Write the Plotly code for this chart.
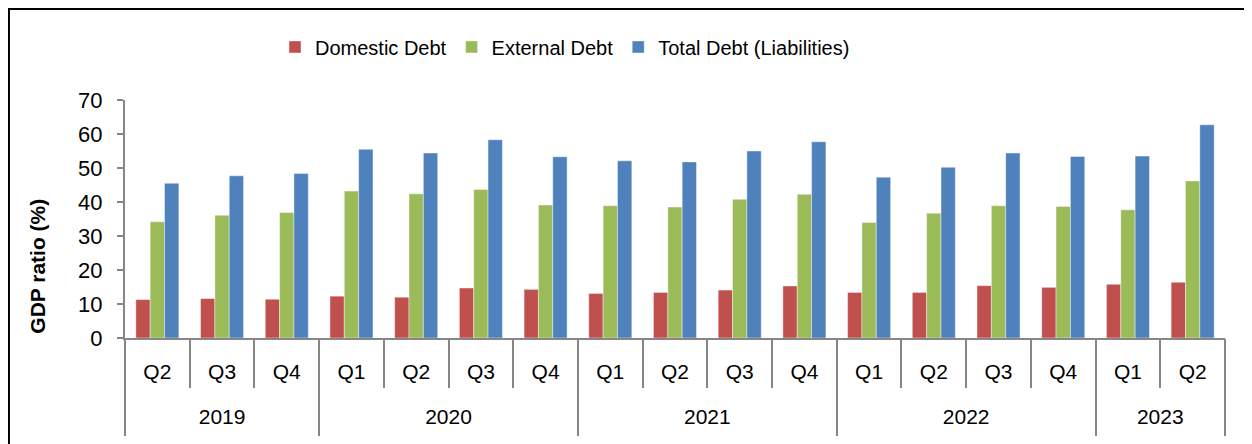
import plotly.graph_objects as go

# Quarters shown on the x axis, grouped by year
years = ["2019"] * 3 + ["2020"] * 4 + ["2021"] * 4 + ["2022"] * 4 + ["2023"] * 2
quarters = ["Q2", "Q3", "Q4",
            "Q1", "Q2", "Q3", "Q4",
            "Q1", "Q2", "Q3", "Q4",
            "Q1", "Q2", "Q3", "Q4",
            "Q1", "Q2"]

# Debt as a share of GDP (%)
domestic = [11.3, 11.6, 11.4, 12.3, 12.0, 14.7, 14.3, 13.1, 13.4, 14.1, 15.3,
            13.4, 13.4, 15.4, 14.9, 15.8, 16.4]
external = [34.2, 36.1, 36.9, 43.2, 42.4, 43.7, 39.1, 38.9, 38.5, 40.8, 42.3,
            34.0, 36.7, 38.9, 38.7, 37.7, 46.2]
total = [45.5, 47.7, 48.4, 55.5, 54.4, 58.3, 53.3, 52.1, 51.8, 55.0, 57.7,
         47.3, 50.2, 54.4, 53.4, 53.5, 62.7]

font = "Liberation Sans, Arial"
axis_grey = "#868686"

pos = list(range(len(quarters)))

# year groups: centre of each group and the boundaries between them
year_names, year_mid, year_edges = [], [], [-0.5]
for i, y in enumerate(years):
    if not year_names or year_names[-1] != y:
        year_names.append(y)
        start = i
    if i == len(years) - 1 or years[i + 1] != y:
        year_mid.append((start + i) / 2)
        year_edges.append(i + 0.5)
quarter_edges = [p - 0.5 for p in pos] + [pos[-1] + 0.5]

fig = go.Figure()
fig.add_trace(go.Bar(x=pos, y=domestic, name="Domestic Debt", marker_color="#C0504D"))
fig.add_trace(go.Bar(x=pos, y=external, name="External Debt", marker_color="#9BBB59"))
fig.add_trace(go.Bar(x=pos, y=total, name="Total Debt (Liabilities)", marker_color="#4F81BD"))
# invisible trace that carries the year axis
fig.add_trace(go.Bar(x=pos, y=[None] * len(pos), xaxis="x2", showlegend=False,
                     hoverinfo="skip"))

fig.update_traces(marker_line_width=0.6, marker_line_color="rgba(255,255,255,0.7)",
                  selector=dict(type="bar"))

rng = [-0.5, len(pos) - 0.5]

# the page body adds an 8px offset, so margins are trimmed by that much
fig.update_layout(
    width=1252, height=444,
    margin=dict(l=117, r=35, t=92, b=114, autoexpand=False),
    paper_bgcolor="white", plot_bgcolor="white",
    font=dict(family=font, size=20, color="black"),
    barmode="group", bargap=0.335, bargroupgap=0,
    legend=dict(orientation="h", x=0.4, xanchor="center", y=1.223, yanchor="middle",
                font=dict(size=20), bgcolor="rgba(0,0,0,0)", traceorder="normal"),
    xaxis=dict(
        range=rng, tickmode="array", tickvals=pos, ticktext=quarters,
        ticks="", ticklabelstandoff=14, tickfont=dict(size=21),
        showline=True, linecolor=axis_grey, linewidth=2,
        showgrid=False, zeroline=False, automargin=False,
        minor=dict(tickmode="array", tickvals=quarter_edges, ticks="outside",
                   ticklen=48, tickcolor=axis_grey, tickwidth=2, showgrid=False),
    ),
    xaxis2=dict(
        overlaying="x", anchor="y", side="bottom", matches="x",
        range=rng, tickmode="array", tickvals=year_mid, ticktext=year_names,
        ticks="", ticklabelstandoff=64, tickfont=dict(size=21),
        showline=False, showgrid=False, zeroline=False, automargin=False,
        minor=dict(tickmode="array", tickvals=year_edges, ticks="outside",
                   ticklen=97, tickcolor=axis_grey, tickwidth=2, showgrid=False),
    ),
    yaxis=dict(
        range=[0, 70], dtick=10,
        showline=True, linecolor=axis_grey, linewidth=2,
        ticks="outside", ticklen=6, tickcolor=axis_grey, tickwidth=2,
        ticklabelstandoff=10,
        showgrid=False, zeroline=False, automargin=False,
        tickfont=dict(size=22),
    ),
)

# y axis title, placed where the original has it
fig.add_annotation(text="<b>GDP ratio (%)</b>", textangle=-90, xref="paper", yref="paper",
                   x=-0.079, y=0.30, xanchor="center", yanchor="middle",
                   showarrow=False, font=dict(size=21))

# outer frame of the chart (left and top edges show, the rest runs off the page)
fig.add_shape(type="rect", xref="paper", yref="paper",
              x0=-0.1055, x1=1.06, y0=-0.5, y1=1.382,
              line=dict(color="black", width=2), fillcolor="rgba(0,0,0,0)", layer="below")

fig.write_html("out.html")
